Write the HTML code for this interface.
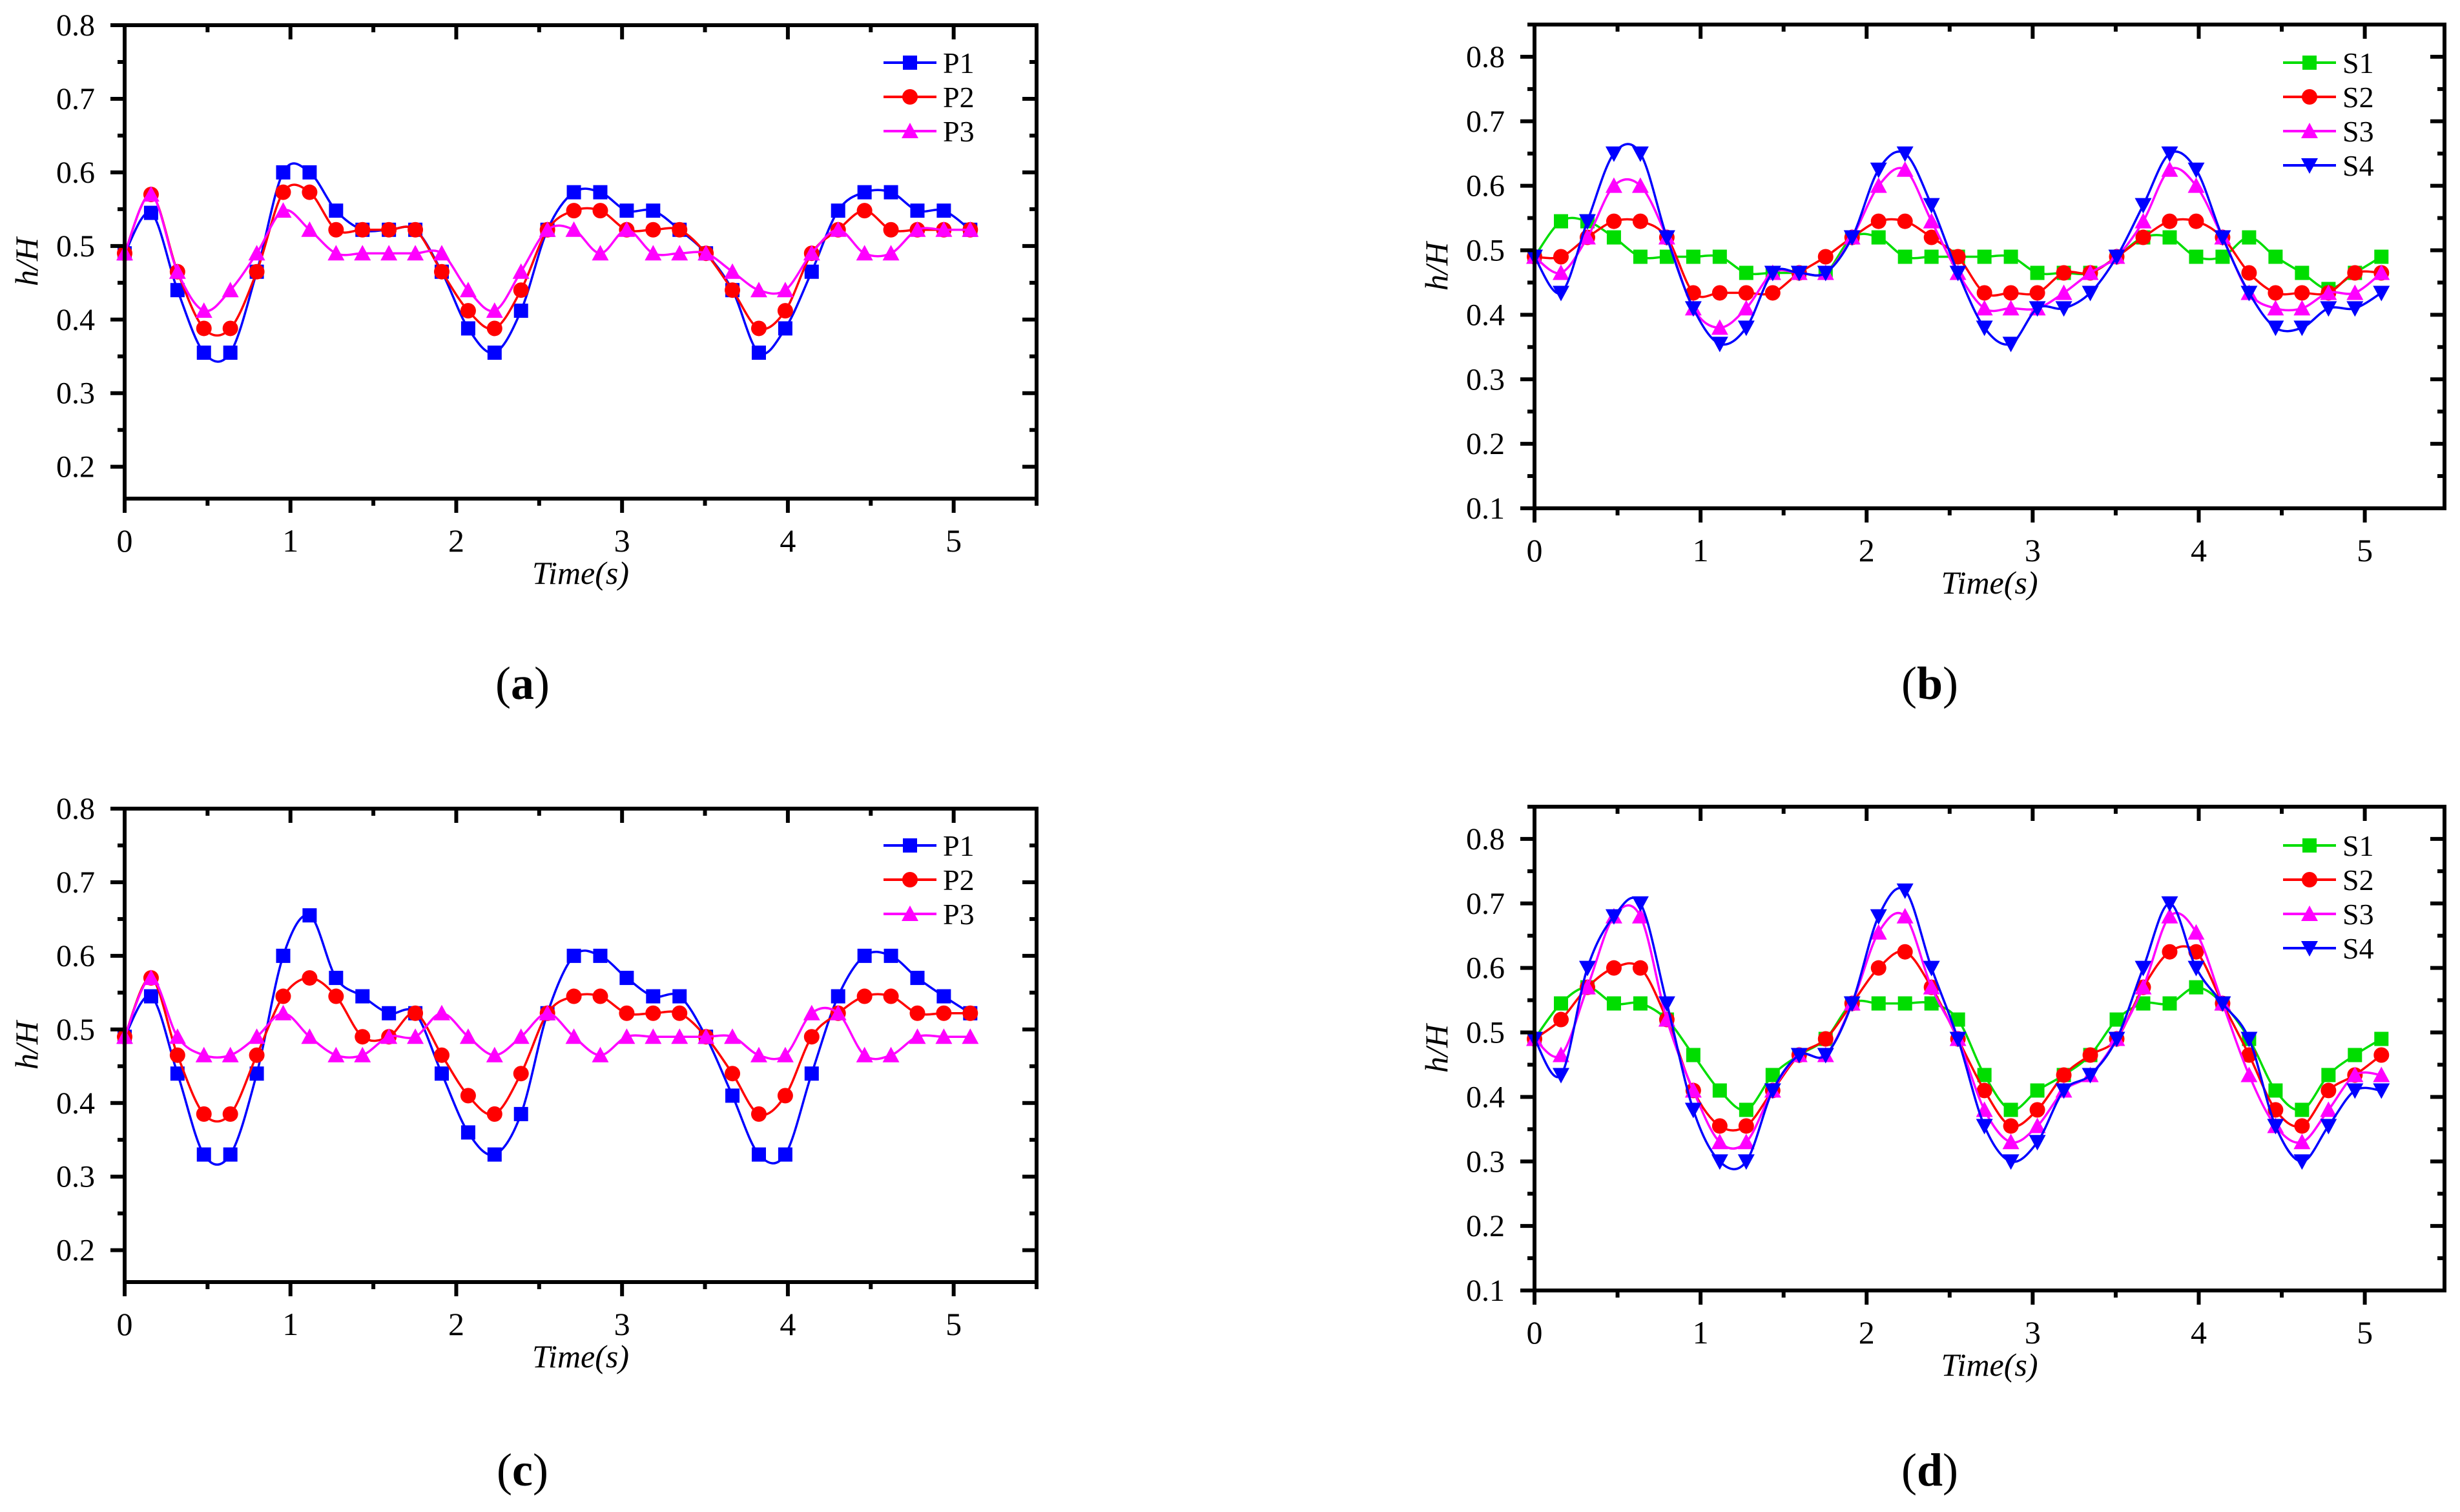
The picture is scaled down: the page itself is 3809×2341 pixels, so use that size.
<!DOCTYPE html>
<html><head><meta charset="utf-8"><style>
html,body{margin:0;padding:0;background:#fff;}
svg{display:block;}
text{font-family:"Liberation Serif",serif;fill:#000;}
</style></head><body>
<svg id="chart" width="3809" height="2341" viewBox="0 0 3809 2341" xmlns="http://www.w3.org/2000/svg"></svg>
<script>
// marker times (s)
const times = [];
for (let i = 0; i <= 32; i++) times.push(+(i * 5.1 / 32).toFixed(4));

// Panel (a)
const aP1 = [0.49,0.545,0.44,0.355,0.355,0.465,0.6,0.6,0.548,0.522,0.522,0.522,0.465,0.388,0.355,0.412,0.522,0.573,0.573,0.548,0.548,0.522,0.49,0.44,0.355,0.388,0.465,0.548,0.573,0.573,0.548,0.548,0.522];
const aP2 = [0.49,0.57,0.465,0.388,0.388,0.465,0.573,0.573,0.522,0.522,0.522,0.522,0.465,0.412,0.388,0.44,0.522,0.548,0.548,0.522,0.522,0.522,0.49,0.44,0.388,0.412,0.49,0.522,0.548,0.522,0.522,0.522,0.522];
const aP3 = [0.49,0.57,0.465,0.412,0.44,0.49,0.548,0.522,0.49,0.49,0.49,0.49,0.49,0.44,0.412,0.465,0.522,0.522,0.49,0.522,0.49,0.49,0.49,0.465,0.44,0.44,0.49,0.522,0.49,0.49,0.522,0.522,0.522];
// Panel (b)
const bS1 = [0.49,0.545,0.545,0.52,0.49,0.49,0.49,0.49,0.465,0.465,0.465,0.465,0.52,0.52,0.49,0.49,0.49,0.49,0.49,0.465,0.465,0.465,0.49,0.52,0.52,0.49,0.49,0.52,0.49,0.465,0.44,0.465,0.49];
const bS2 = [0.49,0.49,0.52,0.545,0.545,0.52,0.434,0.434,0.434,0.434,0.465,0.49,0.52,0.545,0.545,0.52,0.49,0.434,0.434,0.434,0.465,0.465,0.49,0.52,0.545,0.545,0.52,0.465,0.434,0.434,0.434,0.465,0.465];
const bS3 = [0.49,0.465,0.52,0.6,0.6,0.52,0.41,0.38,0.41,0.465,0.465,0.465,0.52,0.6,0.625,0.545,0.465,0.41,0.41,0.41,0.434,0.465,0.49,0.545,0.625,0.6,0.52,0.434,0.41,0.41,0.434,0.434,0.465];
const bS4 = [0.49,0.434,0.545,0.65,0.65,0.52,0.41,0.355,0.38,0.465,0.465,0.465,0.52,0.625,0.65,0.57,0.465,0.38,0.355,0.41,0.41,0.434,0.49,0.57,0.65,0.625,0.52,0.434,0.38,0.38,0.41,0.41,0.434];
// Panel (c)
const cP1 = [0.49,0.545,0.44,0.33,0.33,0.44,0.6,0.655,0.57,0.545,0.522,0.522,0.44,0.36,0.33,0.385,0.522,0.6,0.6,0.57,0.545,0.545,0.49,0.41,0.33,0.33,0.44,0.545,0.6,0.6,0.57,0.545,0.522];
const cP2 = [0.49,0.57,0.465,0.385,0.385,0.465,0.545,0.57,0.545,0.49,0.49,0.522,0.465,0.41,0.385,0.44,0.522,0.545,0.545,0.522,0.522,0.522,0.49,0.44,0.385,0.41,0.49,0.522,0.545,0.545,0.522,0.522,0.522];
const cP3 = [0.49,0.57,0.49,0.465,0.465,0.49,0.522,0.49,0.465,0.465,0.49,0.49,0.522,0.49,0.465,0.49,0.522,0.49,0.465,0.49,0.49,0.49,0.49,0.49,0.465,0.465,0.522,0.522,0.465,0.465,0.49,0.49,0.49];
// Panel (d)
const dS1 = [0.49,0.545,0.57,0.545,0.545,0.52,0.465,0.41,0.38,0.434,0.465,0.49,0.545,0.545,0.545,0.545,0.52,0.434,0.38,0.41,0.434,0.465,0.52,0.545,0.545,0.57,0.545,0.49,0.41,0.38,0.434,0.465,0.49];
const dS2 = [0.49,0.52,0.57,0.6,0.6,0.52,0.41,0.355,0.355,0.41,0.465,0.49,0.545,0.6,0.625,0.57,0.49,0.41,0.355,0.38,0.434,0.465,0.49,0.57,0.625,0.625,0.545,0.465,0.38,0.355,0.41,0.434,0.465];
const dS3 = [0.49,0.465,0.57,0.68,0.68,0.52,0.41,0.33,0.33,0.41,0.465,0.465,0.545,0.655,0.68,0.57,0.49,0.38,0.33,0.355,0.41,0.434,0.49,0.57,0.68,0.655,0.545,0.434,0.355,0.33,0.38,0.434,0.434];
const dS4 = [0.49,0.434,0.6,0.68,0.7,0.545,0.38,0.3,0.3,0.41,0.465,0.465,0.545,0.68,0.72,0.6,0.49,0.355,0.3,0.33,0.41,0.434,0.49,0.6,0.7,0.6,0.545,0.49,0.355,0.3,0.355,0.41,0.41];

const xTicks = [0,1,2,3,4,5];
const yTicksP = [0.2,0.3,0.4,0.5,0.6,0.7,0.8];
const yTicksS = [0.1,0.2,0.3,0.4,0.5,0.6,0.7,0.8];

const NS = "http://www.w3.org/2000/svg";
const svg = document.getElementById('chart');
function mk(tag, attrs, parent) {
  const e = document.createElementNS(NS, tag);
  for (const k in attrs) e.setAttribute(k, attrs[k]);
  (parent || svg).appendChild(e);
  return e;
}

const COL = {blue:'#0000ff', red:'#ff0000', mag:'#ff00ff', green:'#00dd00'};

function marker(g, type, x, y, color) {
  const s = 11;
  let m;
  if (type === 'square') m = mk('rect', {x:x-s, y:y-s, width:2*s, height:2*s, fill:color}, g);
  else if (type === 'circle') m = mk('circle', {cx:x, cy:y, r:s+1, fill:color}, g);
  else if (type === 'up') m = mk('polygon', {points:`${x},${y-s-2} ${x-s-2},${y+s} ${x+s+2},${y+s}`, fill:color}, g);
  else m = mk('polygon', {points:`${x},${y+s+2} ${x-s-2},${y-s} ${x+s+2},${y-s}`, fill:color}, g);
  
  
}

function smoothPath(pts) {
  let d = `M${pts[0][0]},${pts[0][1]}`;
  for (let i = 0; i < pts.length - 1; i++) {
    const p0 = pts[Math.max(0,i-1)], p1 = pts[i], p2 = pts[i+1], p3 = pts[Math.min(pts.length-1,i+2)];
    const t = 0.5/3;
    const c1x = p1[0] + (p2[0]-p0[0])*t, c1y = p1[1] + (p2[1]-p0[1])*t;
    const c2x = p2[0] - (p3[0]-p1[0])*t, c2y = p2[1] - (p3[1]-p1[1])*t;
    d += ` C${c1x.toFixed(1)},${c1y.toFixed(1)} ${c2x.toFixed(1)},${c2y.toFixed(1)} ${p2[0].toFixed(1)},${p2[1].toFixed(1)}`;
  }
  return d;
}

function panel(cfg) {
  const g = mk('g', {});
  
  
  const {L, R, T, B, xmax, ymin, ymax} = cfg;
  const sx = v => L + (v / xmax) * (R - L);
  const sy = v => B - (v - ymin) / (ymax - ymin) * (B - T);

  cfg.series.forEach(s => {
    const sg = mk('g', {}, g);
    
    
    const pts = times.map((t, i) => [sx(t), sy(s.data[i])]);
    const p = mk('path', {d: smoothPath(pts), fill:'none', stroke:s.color, 'stroke-width':3.5}, sg);
    
    
    pts.forEach(q => marker(sg, s.mk, q[0], q[1], s.color));
  });

  const fr = mk('rect', {x:L, y:T, width:R-L, height:B-T, fill:'none', stroke:'#000', 'stroke-width':6}, g);
  
  

  for (let v = 0; v <= xmax + 1e-6; v += 0.5) {
    const x = sx(v);
    const major = Math.abs(v - Math.round(v)) < 1e-6;
    const len = major ? 22 : 11;
    mk('line', {x1:x, y1:B, x2:x, y2:B+len, stroke:'#000', 'stroke-width':6}, g);
    mk('line', {x1:x, y1:T, x2:x, y2:T+len, stroke:'#000', 'stroke-width':6}, g);
  }
  xTicks.forEach(v => {
    const t = mk('text', {x:sx(v), y:B+82, 'font-size':50, 'text-anchor':'middle'}, g);
    t.textContent = String(v);
    
    
  });
  for (let v = cfg.yt0; v <= ymax + 1e-6; v += 0.05) {
    const y = sy(v);
    const major = Math.abs(v*10 - Math.round(v*10)) < 1e-6;
    const len = major ? 22 : 11;
    mk('line', {x1:L-len, y1:y, x2:L, y2:y, stroke:'#000', 'stroke-width':6}, g);
    mk('line', {x1:R-len, y1:y, x2:R, y2:y, stroke:'#000', 'stroke-width':6}, g);
  }
  cfg.yTicks.forEach(v => {
    const t = mk('text', {x:L-46, y:sy(v)+16, 'font-size':48, 'text-anchor':'end'}, g);
    t.textContent = v.toFixed(1);
    
    
  });
  const xt = mk('text', {x:(L+R)/2, y:B+132, 'font-size':50, 'font-style':'italic', 'text-anchor':'middle'}, g);
  xt.textContent = 'Time(s)';
  
  
  const ycx = L - 135, ycy = (T+B)/2;
  const yt = mk('text', {x:ycx, y:ycy, 'font-size':50, 'font-style':'italic', 'text-anchor':'middle', transform:`rotate(-90 ${ycx} ${ycy})`}, g);
  yt.textContent = 'h/H';
  
  

  cfg.series.forEach((s, i) => {
    const ly = cfg.legY + i * 53;
    const lg = mk('g', {}, g);
    
    
    mk('line', {x1:cfg.legX, y1:ly, x2:cfg.legX+82, y2:ly, stroke:s.color, 'stroke-width':4}, lg);
    marker(lg, s.mk, cfg.legX+41, ly, s.color);
    const t = mk('text', {x:cfg.legX+92, y:ly+16, 'font-size':46}, lg);
    t.textContent = s.label;
  });

  const pl = mk('text', {x:cfg.letX, y:cfg.letY, 'font-size':72, 'text-anchor':'middle'}, g);
  
  
  pl.innerHTML = `(<tspan font-weight="bold">${cfg.letter}</tspan>)`;
}

const pSeries = (a,b,c) => [
  {label:'P1', data:a, color:COL.blue, mk:'square'},
  {label:'P2', data:b, color:COL.red, mk:'circle'},
  {label:'P3', data:c, color:COL.mag, mk:'up'}];
const sSeries = (a,b,c,d) => [
  {label:'S1', data:a, color:COL.green, mk:'square'},
  {label:'S2', data:b, color:COL.red, mk:'circle'},
  {label:'S3', data:c, color:COL.mag, mk:'up'},
  {label:'S4', data:d, color:COL.blue, mk:'down'}];

panel({name:'panel-a', L:193, R:1605, T:39, B:772, xmax:5.5, ymin:0.1567, ymax:0.8, yt0:0.2, yTicks:yTicksP,
  series:pSeries(aP1,aP2,aP3), legX:1368, legY:97, letX:809, letY:1082, letter:'a'});
panel({name:'panel-b', L:2376, R:3785, T:38, B:787, xmax:5.48, ymin:0.1, ymax:0.85, yt0:0.1, yTicks:yTicksS,
  series:sSeries(bS1,bS2,bS3,bS4), legX:3535, legY:97, letX:2988, letY:1082, letter:'b'});
panel({name:'panel-c', L:193, R:1605, T:1252, B:1985, xmax:5.5, ymin:0.1567, ymax:0.8, yt0:0.2, yTicks:yTicksP,
  series:pSeries(cP1,cP2,cP3), legX:1368, legY:1309, letX:809, letY:2300, letter:'c'});
panel({name:'panel-d', L:2376, R:3785, T:1249, B:1998, xmax:5.48, ymin:0.1, ymax:0.85, yt0:0.1, yTicks:yTicksS,
  series:sSeries(dS1,dS2,dS3,dS4), legX:3535, legY:1309, letX:2988, letY:2300, letter:'d'});
</script>
</body></html>
